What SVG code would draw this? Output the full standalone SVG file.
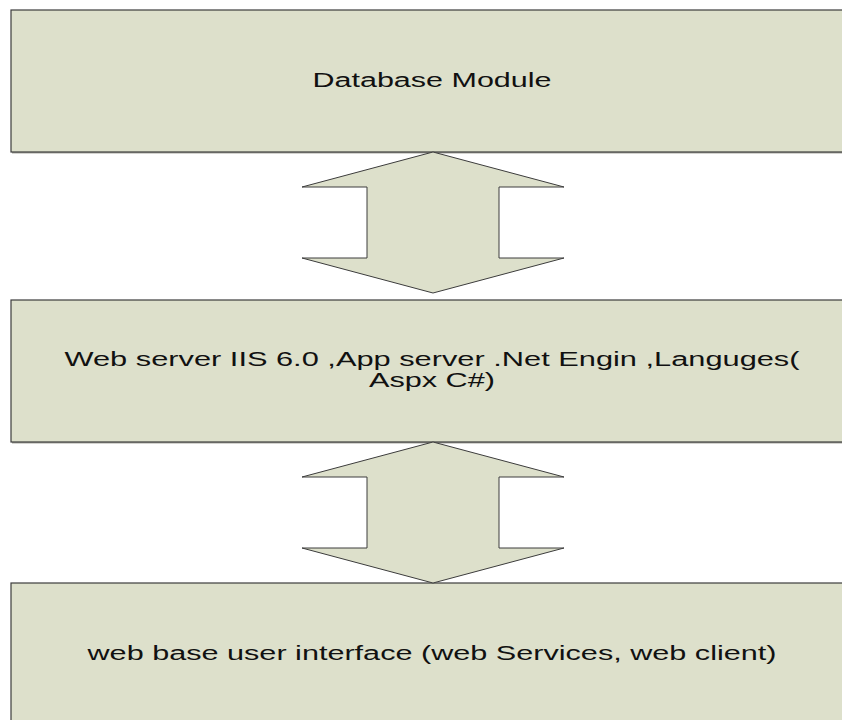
<svg xmlns="http://www.w3.org/2000/svg" width="842" height="720" viewBox="0 0 842 720">
<style>
.box{fill:#DDE0CB;stroke:#3c3c3c;stroke-width:1.2}
.shadow{fill:#a8a8a0}
.arrow{fill:#DDE0CB;stroke:#3c3c3c;stroke-width:1}
.lbl{font-family:"Liberation Sans",Arial,sans-serif;font-size:19.5px;fill:#111;text-anchor:middle}
</style>
<rect width="842" height="720" fill="#ffffff"/>
<g id="database-module">
<rect class="shadow" x="12" y="11" width="842" height="142.5"/>
<rect class="box" x="11" y="10" width="842" height="142"/>
<text class="lbl" x="432" y="87" textLength="239" lengthAdjust="spacingAndGlyphs">Database Module</text>
</g>
<g id="web-server">
<rect class="shadow" x="12" y="301" width="842" height="142.5"/>
<rect class="box" x="11" y="300" width="842" height="142"/>
<text class="lbl" x="432" y="366" textLength="735" lengthAdjust="spacingAndGlyphs">Web server IIS 6.0 ,App server .Net Engin ,Languges(</text>
<text class="lbl" x="432" y="387" textLength="126" lengthAdjust="spacingAndGlyphs">Aspx C#)</text>
</g>
<g id="web-ui">
<rect class="box" x="11" y="583" width="842" height="150"/>
<text class="lbl" x="432" y="660" textLength="689" lengthAdjust="spacingAndGlyphs">web base user interface (web Services, web client)</text>
</g>
<g id="connectors">
<polygon class="arrow" points="433,152 564,187 499,187 499,258 564,258 433,293 302,258 367,258 367,187 302,187"/>
<polygon class="arrow" points="433,442 564,477 499,477 499,548 564,548 433,583 302,548 367,548 367,477 302,477"/>
</g>
</svg>
